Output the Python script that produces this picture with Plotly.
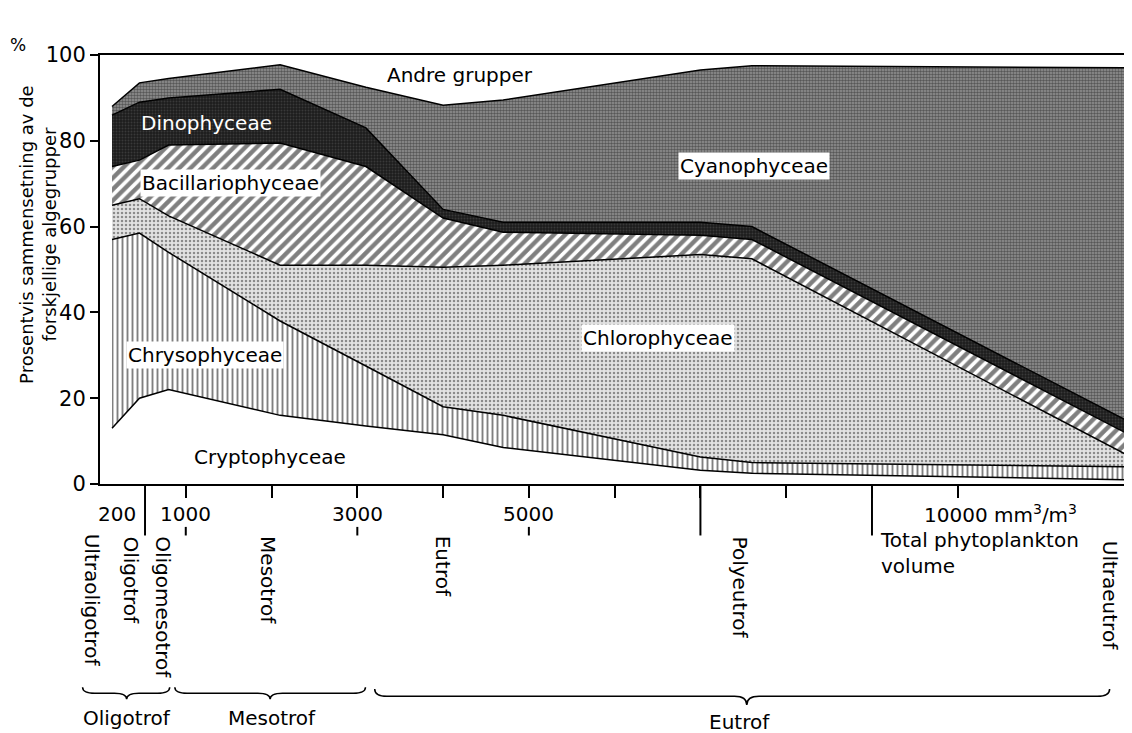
import plotly.graph_objects as go

# Total phytoplankton volume (mm3/m3) at the points where the boundaries bend
volume = [140, 460, 800, 2100, 3100, 4000, 4700, 7000, 7600, 11950]

# Percent composition of each algal group (stacked, bottom to top)
cryptophyceae = [13, 20, 22, 16, 13.5, 11.5, 8.5, 3.2, 2.5, 1]
chrysophyceae = [44, 38.5, 32, 22, 14, 6.5, 7.5, 3.1, 2.5, 3]
chlorophyceae = [8, 8, 8.5, 13, 23.5, 32.5, 35, 47.2, 47.5, 3]
bacillariophyceae = [9, 9, 16.5, 28.5, 23, 11.5, 7.7, 4.5, 4.5, 5]
dinophyceae = [12, 13.5, 11, 12.5, 9, 2, 2.3, 3, 3, 3]
cyanophyceae = [2, 4.5, 4.5, 5.7, 9.5, 24.3, 28.5, 35.5, 37.5, 82]
andre_grupper = [12, 6.5, 5.5, 2.3, 7.5, 11.7, 10.5, 3.5, 2.5, 3]

y_ticks = [0, 20, 40, 60, 80, 100]
x_ticks = [1000, 2000, 3000, 4000, 5000, 6000, 7000, 8000, 9000, 10000]
x_labels = [200, 1000, 3000, 5000]
boundary_ticks = [525, 7000, 9000]

FONT = "DejaVu Sans"

fig = go.Figure()

series = [
    ("Cryptophyceae", cryptophyceae, dict(fillcolor="white")),
    ("Chrysophyceae", chrysophyceae,
     dict(fillpattern=dict(shape="|", fgcolor="black", bgcolor="white", size=5, solidity=0.38))),
    ("Chlorophyceae", chlorophyceae,
     dict(fillpattern=dict(shape=".", fgcolor="#333", bgcolor="#e2e2e2", size=4, solidity=0.3))),
    ("Bacillariophyceae", bacillariophyceae,
     dict(fillpattern=dict(shape="/", fgcolor="black", bgcolor="white", size=8, solidity=0.55))),
    ("Dinophyceae", dinophyceae,
     dict(fillpattern=dict(shape=".", fgcolor="#555", bgcolor="#1c1c1c", size=3, solidity=0.35))),
    ("Cyanophyceae", cyanophyceae,
     dict(fillpattern=dict(shape=".", fgcolor="#1a1a1a", bgcolor="#949494", size=3, solidity=0.55))),
]
for name, vals, style in series:
    fig.add_trace(go.Scatter(
        x=volume, y=vals, name=name, stackgroup="algae", mode="lines",
        line=dict(color="black", width=1.5, shape="linear"), **style))
fig.add_trace(go.Scatter(
    x=volume, y=andre_grupper, name="Andre grupper", stackgroup="algae", mode="lines",
    line=dict(color="rgba(0,0,0,0)", width=0), fillcolor="white"))

annotations = []


def txt(text, x, y, xref="paper", yref="paper", size=20, color="black",
        xanchor="center", yanchor="middle", **kw):
    d = dict(text=text, x=x, y=y, xref=xref, yref=yref, showarrow=False,
             xanchor=xanchor, yanchor=yanchor,
             font=dict(family=FONT, size=size, color=color))
    d.update(kw)
    annotations.append(d)


# group labels inside the chart
inside = [
    ("Andre grupper", 4200, 95.3, None, "black"),
    ("Dinophyceae", 1245, 84.1, None, "white"),
    ("Bacillariophyceae", 1525, 70.2, "white", "black"),
    ("Cyanophyceae", 7620, 74.1, "white", "black"),
    ("Chlorophyceae", 6510, 34.0, "white", "black"),
    ("Chrysophyceae", 1220, 30.1, "white", "black"),
    ("Cryptophyceae", 1980, 6.3, None, "black"),
]
for text, xv, yv, bg, col in inside:
    extra = dict(borderpad=1)
    if bg:
        extra["bgcolor"] = bg
    txt(text, xv, yv, xref="x", yref="y", color=col, **extra)

# x tick labels
for v in x_labels:
    txt(str(v), v, -0.07, xref="x")
txt("10000 mm<sup>3</sup>/m<sup>3</sup>", 10000, -0.07, xref="x", xanchor="left", xshift=-36)
txt("Total phytoplankton<br>volume", 0.759, -0.098, xanchor="left", yanchor="top", align="left")

# vertical trophic labels
vert = [("Ultraoligotrof", -0.007, -0.112), ("Oligotrof", 0.030, -0.117),
        ("Oligomesotrof", 0.0615, -0.117), ("Mesotrof", 0.164, -0.117),
        ("Eutrof", 0.3346, -0.117), ("Polyeutrof", 0.624, -0.117),
        ("Ultraeutrof", 0.985, -0.128)]
for text, xp, yp in vert:
    txt(text, xp, yp, yanchor="top", textangle=90)

# brace labels
for text, xp, yp in [("Oligotrof", 0.0265, -0.545), ("Mesotrof", 0.168, -0.545),
                     ("Eutrof", 0.624, -0.555)]:
    txt(text, xp, yp)

# y title and percent sign
txt("Prosentvis sammensetning av de<br>forskjellige algegrupper", -0.0605, 0.583,
    size=18, textangle=-90)
txt("%", -0.080, 1.023, size=17)

shapes = []
for v in boundary_ticks:
    shapes.append(dict(type="line", xref="x", yref="paper", x0=v, x1=v, y0=0, y1=-0.12,
                       line=dict(color="black", width=2)))
for v in [1000, 3000, 5000]:
    shapes.append(dict(type="line", xref="x", yref="paper", x0=v, x1=v, y0=-0.1, y1=-0.12,
                       line=dict(color="black", width=2)))


def brace(xl, xm, xr, ytop, ymid, ytip, w=0.012):
    return (f"M {xl},{ytop} Q {xl},{ymid} {xl + w},{ymid} L {xm - w},{ymid} "
            f"Q {xm},{ymid} {xm},{ytip} Q {xm},{ymid} {xm + w},{ymid} "
            f"L {xr - w},{ymid} Q {xr},{ymid} {xr},{ytop}")


for xl, xm, xr, yt, ym, yp in [(-0.017, 0.026, 0.068, -0.474, -0.488, -0.502),
                              (0.073, 0.166, 0.259, -0.474, -0.488, -0.502),
                              (0.268, 0.631, 0.985, -0.478, -0.495, -0.515)]:
    shapes.append(dict(type="path", xref="paper", yref="paper", path=brace(xl, xm, xr, yt, ym, yp),
                       line=dict(color="black", width=1.5)))

fig.update_layout(
    width=1124, height=725,
    margin=dict(l=92, r=7, t=47, b=249),
    paper_bgcolor="white", plot_bgcolor="white",
    showlegend=False,
    font=dict(family=FONT, color="black"),
    annotations=annotations,
    shapes=shapes,
    xaxis=dict(range=[0, 11950], showgrid=False, zeroline=False, showline=True,
               linecolor="black", linewidth=2, mirror=True,
               tickvals=x_ticks, ticks="outside", ticklen=12, tickwidth=2, tickcolor="black",
               showticklabels=False),
    yaxis=dict(range=[0, 100], showgrid=False, zeroline=False, showline=True,
               linecolor="black", linewidth=2,
               tickvals=y_ticks, ticks="outside", ticklen=8, tickwidth=2, tickcolor="black",
               tickfont=dict(family=FONT, size=21, color="black")),
)

fig.write_html("out.html")
